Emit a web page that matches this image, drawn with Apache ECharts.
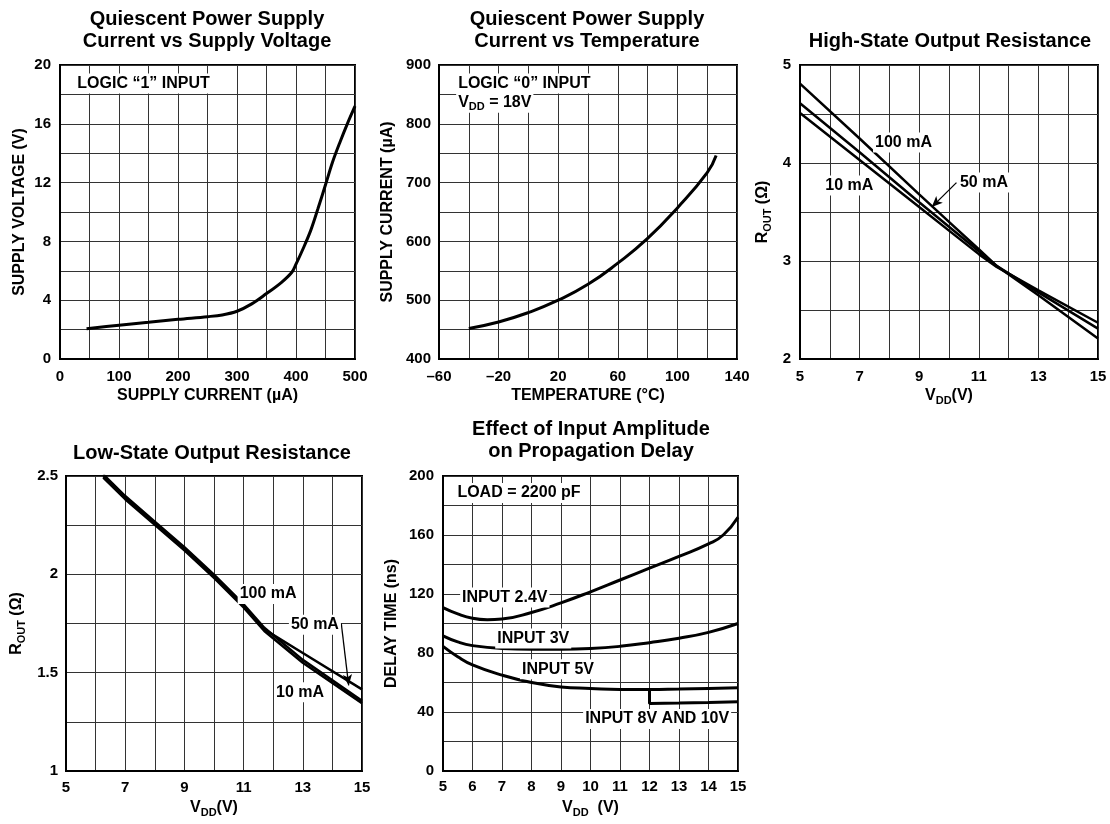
<!DOCTYPE html>
<html>
<head>
<meta charset="utf-8">
<script src="https://cdn.jsdelivr.net/npm/echarts@6/dist/echarts.min.js"></script>
<style>
html,body{margin:0;padding:0;background:#fff;}
#c{width:1110px;height:824px;}
</style>
</head>
<body>
<div id="c"></div>
<script>
// ---------- Chart 1: Quiescent supply current vs supply voltage ----------
const current1 = [45,100,150,200,250,275,300,325,350,375,393,400,412,425,437,450,462,475,487,500];
const voltage1 = [2.05,2.3,2.5,2.7,2.88,3.0,3.25,3.75,4.45,5.2,5.9,6.45,7.5,8.75,10.2,11.85,13.4,14.8,16.0,17.2];
const xTicks1 = [0,100,200,300,400,500];
const yTicks1 = [0,4,8,12,16,20];

// ---------- Chart 2: Quiescent supply current vs temperature ----------
const temp2 = [-40,-20,0,20,40,60,80,100,120,126];
const current2 = [452,463,479,500,527,563,605,657,717,746];
const xTicks2 = [-60,-20,20,60,100,140];
const xTickLabels2 = ['\u201360','\u201320','20','60','100','140'];
const yTicks2 = [400,500,600,700,800,900];

// ---------- Chart 3: High-state output resistance ----------
const vdd3 = [5,7,9,10,11,11.6,13,15];
const rHigh10 = [4.51,4.03,3.55,3.31,3.07,2.94,2.70,2.37];
const rHigh50 = [4.61,4.11,3.60,3.35,3.10,2.95,2.68,2.31];
const rHigh100 = [4.81,4.25,3.68,3.40,3.12,2.95,2.65,2.21];
const xTicks3 = [5,7,9,11,13,15];
const yTicks3 = [2,3,4,5];

// ---------- Chart 4: Low-state output resistance ----------
const vdd4 = [6.26,7,8,9,10,11,11.7,13,15];
const rLow100 = [2.508,2.398,2.268,2.138,1.998,1.848,1.728,1.565,1.357];
const rLow50 = [2.5,2.39,2.26,2.13,1.99,1.84,1.72,1.60,1.415];
const rLow10 = [2.492,2.382,2.252,2.122,1.982,1.832,1.712,1.55,1.345];
const xTicks4 = [5,7,9,11,13,15];
const yTicks4 = [1,1.5,2,2.5];
const yTickLabels4 = ['1','1.5','2','2.5'];

// ---------- Chart 5: Effect of input amplitude on propagation delay ----------
const vdd5a = [5,5.5,6,6.5,7,8,9,10,11,12,13,14,14.5,15];
const delay24 = [110.8,106.5,103.5,102.5,103,107.5,114,121.5,129.5,137.5,145.5,154,160,172];
const vdd5b = [5,5.5,6,7,8,9,10,11,12,13,14,15];
const delay3 = [91.6,87.5,85,83,82.5,82.5,83,84.5,87,90,94,100];
const delay5 = [84.5,77.5,72,65,60,57,56,55.3,55.3,55.6,56,56.4];
const vdd810 = [12,12,13,14,15];
const delay810 = [55.3,45.8,46.1,46.5,47];
const xTicks5 = [5,6,7,8,9,10,11,12,13,14,15];
const yTicks5 = [0,40,80,120,160,200];

// ---------- helpers ----------
const FONT = "'Liberation Sans', Arial, Helvetica, sans-serif";
const zip = (xs, ys) => xs.map((x, i) => [x, ys[i]]);
function tickFmt(values, labels) {
  return function (v) {
    const i = values.findIndex(t => Math.abs(t - v) < 1e-9);
    if (i < 0) return '';
    return labels ? labels[i] : String(values[i]);
  };
}
const richName = {
  m: {fontSize: 16, fontWeight: 'bold', fontFamily: FONT, color: '#000', lineHeight: 20},
  s: {fontSize: 11, fontWeight: 'bold', fontFamily: FONT, color: '#000', lineHeight: 11, verticalAlign: 'bottom'}
};
function axis(o) {
  return {
    type: 'value', gridIndex: o.g, min: o.min, max: o.max, interval: o.interval,
    axisLine: {show: true, onZero: false, lineStyle: {color: '#000', width: 2}},
    axisTick: {show: false},
    splitLine: {show: true, lineStyle: {color: '#333', width: 1}},
    axisLabel: {margin: o.margin, fontSize: 15, fontWeight: 'bold', color: '#000', fontFamily: FONT,
                formatter: tickFmt(o.ticks, o.labels), showMinLabel: true, showMaxLabel: true},
    name: o.name, nameLocation: 'middle', nameGap: o.nameGap,
    nameTextStyle: {fontSize: 16, fontWeight: 'bold', color: '#000', fontFamily: FONT, rich: richName}
  };
}
function line(name, x, y, data, lw, smooth) {
  return {
    type: 'line', name: name, xAxisIndex: x, yAxisIndex: y, data: data,
    showSymbol: false, symbol: 'none', smooth: smooth,
    lineStyle: {color: '#000', width: lw}, silent: true, clip: true
  };
}
function arrow(from, to) {
  return {
    silent: true, symbol: ['none', 'arrow'], symbolSize: [7, 11],
    lineStyle: {color: '#000', width: 1.3, type: 'solid'}, label: {show: false},
    data: [[{coord: from}, {coord: to}]]
  };
}

const grids = [
  {left: 60, top: 65, width: 295, height: 294},
  {left: 439, top: 65, width: 298, height: 294},
  {left: 800, top: 65, width: 298, height: 294},
  {left: 66, top: 476, width: 296, height: 295},
  {left: 443, top: 476, width: 295, height: 295}
].map(g => Object.assign(g, {show: true, borderColor: '#000', borderWidth: 2, backgroundColor: '#fff'}));

const s3b = line('50 mA', 2, 2, zip(vdd3, rHigh50), 2.5, false);
s3b.markLine = arrow([10.25, 3.8], [9.42, 3.55]);
const s4b = line('50 mA', 3, 3, zip(vdd4, rLow50), 2.5, false);
s4b.markLine = arrow([14.3, 1.75], [14.55, 1.435]);

const option = {
  animation: false,
  backgroundColor: '#fff',
  grid: grids,
  xAxis: [
    axis({g: 0, min: 0, max: 500, interval: 50, ticks: xTicks1, margin: 10, name: 'SUPPLY CURRENT (\u00b5A)', nameGap: 29}),
    axis({g: 1, min: -60, max: 140, interval: 20, ticks: xTicks2, labels: xTickLabels2, margin: 10, name: 'TEMPERATURE (\u00b0C)', nameGap: 29}),
    axis({g: 2, min: 5, max: 15, interval: 1, ticks: xTicks3, margin: 10, name: '{m|V}{s|DD}{m|(V)}', nameGap: 27}),
    axis({g: 3, min: 5, max: 15, interval: 1, ticks: xTicks4, margin: 9, name: '{m|V}{s|DD}{m|(V)}', nameGap: 27}),
    axis({g: 4, min: 5, max: 15, interval: 1, ticks: xTicks5, margin: 8, name: '{m|V}{s|DD}{m|  (V)}', nameGap: 27})
  ],
  yAxis: [
    axis({g: 0, min: 0, max: 20, interval: 2, ticks: yTicks1, margin: 9, name: 'SUPPLY VOLTAGE (V)', nameGap: 32}),
    axis({g: 1, min: 400, max: 900, interval: 50, ticks: yTicks2, margin: 8, name: 'SUPPLY CURRENT (\u00b5A)', nameGap: 43}),
    axis({g: 2, min: 2, max: 5, interval: 0.5, ticks: yTicks3, margin: 9, name: '{m|R}{s|OUT}{m| (\u03a9)}', nameGap: 27}),
    axis({g: 3, min: 1, max: 2.5, interval: 0.25, ticks: yTicks4, labels: yTickLabels4, margin: 8, name: '{m|R}{s|OUT}{m| (\u03a9)}', nameGap: 39}),
    axis({g: 4, min: 0, max: 200, interval: 20, ticks: yTicks5, margin: 9, name: 'DELAY TIME (ns)', nameGap: 43})
  ],
  series: [
    line('Logic 1', 0, 0, zip(current1, voltage1), 3, 0.35),
    line('Logic 0', 1, 1, zip(temp2, current2), 3, 0.5),
    line('10 mA', 2, 2, zip(vdd3, rHigh10), 2.5, false),
    s3b,
    line('100 mA', 2, 2, zip(vdd3, rHigh100), 2.5, false),
    line('100 mA', 3, 3, zip(vdd4, rLow100), 2.5, false),
    s4b,
    line('10 mA', 3, 3, zip(vdd4, rLow10), 2.5, false),
    line('Input 2.4V', 4, 4, zip(vdd5a, delay24), 3, 0.5),
    line('Input 3V', 4, 4, zip(vdd5b, delay3), 3, 0.5),
    line('Input 5V', 4, 4, zip(vdd5b, delay5), 3, 0.5),
    line('Input 8V and 10V', 4, 4, zip(vdd810, delay810), 3, false)
  ]
};

const chart = echarts.init(document.getElementById('c'), null, {renderer: 'canvas'});
chart.setOption(option);

// titles
const titles = [
  {x: 207, y: 8, t: 'Quiescent Power Supply\nCurrent vs Supply Voltage'},
  {x: 587, y: 8, t: 'Quiescent Power Supply\nCurrent vs Temperature'},
  {x: 950, y: 30, t: 'High-State Output Resistance'},
  {x: 212, y: 442, t: 'Low-State Output Resistance'},
  {x: 591, y: 418, t: 'Effect of Input Amplitude\non Propagation Delay'}
];
// annotations in data coordinates
const notes = [
  {g: 0, p: [26, 18.75], t: 'LOGIC \u201c1\u201d INPUT'},
  {g: 1, p: [-48.5, 868.5], t: 'LOGIC \u201c0\u201d INPUT'},
  {g: 1, p: [-48.5, 836], t: 'V{s|DD} = 18V'},
  {g: 2, p: [7.45, 4.21], t: '100 mA'},
  {g: 2, p: [5.78, 3.77], t: '10 mA'},
  {g: 2, p: [10.3, 3.80], t: '50 mA'},
  {g: 3, p: [10.8, 1.90], t: '100 mA'},
  {g: 3, p: [12.53, 1.744], t: '50 mA'},
  {g: 3, p: [12.03, 1.40], t: '10 mA'},
  {g: 4, p: [5.42, 188.5], t: 'LOAD = 2200 pF'},
  {g: 4, p: [5.58, 117.6], t: 'INPUT 2.4V'},
  {g: 4, p: [6.77, 89.8], t: 'INPUT 3V'},
  {g: 4, p: [7.61, 69], t: 'INPUT 5V'},
  {g: 4, p: [9.75, 35.2], t: 'INPUT 8V AND 10V'}
];
const graphic = titles.map(o => ({
  type: 'text', x: o.x, y: o.y, z: 100,
  style: {text: o.t, fill: '#000', font: 'bold 20px ' + FONT, align: 'center', verticalAlign: 'top', lineHeight: 22}
})).concat(notes.map(o => {
  const px = chart.convertToPixel({gridIndex: o.g}, o.p);
  return {
    type: 'text', x: px[0], y: px[1], z: 100,
    style: {
      text: o.t, fill: '#000', font: 'bold 16px ' + FONT, align: 'left', verticalAlign: 'middle',
      lineHeight: 20, backgroundColor: '#fff', padding: [0, 2],
      rich: {s: {fontSize: 11, fontWeight: 'bold', fontFamily: FONT, fill: '#000', lineHeight: 11, verticalAlign: 'bottom'}}
    }
  };
}));
chart.setOption({graphic: graphic});
</script>
</body>
</html>
